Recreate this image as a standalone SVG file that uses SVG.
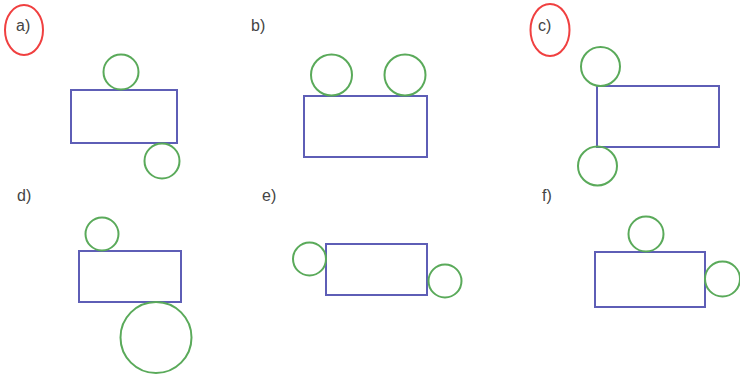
<svg xmlns="http://www.w3.org/2000/svg" width="740" height="374" viewBox="0 0 740 374">
<style>
.lbl{font-family:"Liberation Sans",Arial,sans-serif;font-size:16px;fill:#444}
.r{fill:none;stroke:#5e5eb6;stroke-width:2}
.c{fill:none;stroke:#5aaa5a;stroke-width:2}
.e{fill:none;stroke:#f04040;stroke-width:2}
</style>
<rect width="740" height="374" fill="#fff"/>
<g id="a">
<ellipse class="e" cx="24" cy="30" rx="19" ry="25"/>
<text class="lbl" x="16" y="31">a)</text>
<rect class="r" x="71" y="90" width="106" height="53"/>
<circle class="c" cx="121" cy="72" r="17.5"/>
<circle class="c" cx="162" cy="161" r="17.5"/>
</g>
<g id="b">
<text class="lbl" x="251" y="31">b)</text>
<rect class="r" x="304" y="96" width="123" height="61"/>
<circle class="c" cx="331.5" cy="75" r="20.5"/>
<circle class="c" cx="405" cy="75" r="20.5"/>
</g>
<g id="c">
<ellipse class="e" cx="550" cy="30" rx="19.5" ry="26"/>
<text class="lbl" x="538" y="31">c)</text>
<rect class="r" x="597" y="86" width="122" height="61"/>
<circle class="c" cx="600.5" cy="66.5" r="19.5"/>
<circle class="c" cx="597.5" cy="166" r="19.5"/>
</g>
<g id="d">
<text class="lbl" x="17" y="201">d)</text>
<rect class="r" x="79" y="251" width="102" height="51"/>
<circle class="c" cx="102" cy="234" r="16.5"/>
<circle class="c" cx="156" cy="337.5" r="35.5"/>
</g>
<g id="e">
<text class="lbl" x="262" y="201">e)</text>
<rect class="r" x="326" y="244" width="101" height="51"/>
<circle class="c" cx="309.5" cy="259" r="16.5"/>
<circle class="c" cx="445" cy="281" r="16.5"/>
</g>
<g id="f">
<text class="lbl" x="542" y="201">f)</text>
<rect class="r" x="595" y="252" width="110" height="55"/>
<circle class="c" cx="646" cy="234" r="17.5"/>
<circle class="c" cx="722.5" cy="279" r="17.5"/>
</g>
</svg>
